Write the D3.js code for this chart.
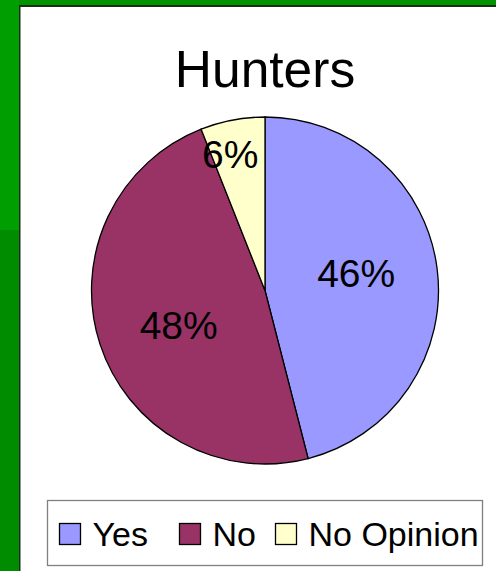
<!DOCTYPE html>
<html><head><meta charset="utf-8">
<script src="https://cdn.jsdelivr.net/npm/d3@7"></script>
<style>body{margin:0;padding:0;overflow:hidden;background:#fff}</style>
</head><body>
<svg id="c" width="496" height="571"></svg>
<script>
const title = "Hunters";
const categories = ["Yes", "No", "No Opinion"];
const values = [46, 48, 6];
const colors = ["#9999FF", "#993366", "#FFFFCC"];

const svg = d3.select("#c");
const font = "'Liberation Sans', Arial, sans-serif";

// slide background frame
svg.append("rect").attr("x",0).attr("y",0).attr("width",496).attr("height",571).attr("fill","#ffffff");
svg.append("rect").attr("x",0).attr("y",0).attr("width",496).attr("height",6).attr("fill","#009400");
svg.append("rect").attr("x",0).attr("y",0).attr("width",19).attr("height",230).attr("fill","#009e00");
svg.append("rect").attr("x",0).attr("y",230).attr("width",19).attr("height",341).attr("fill","#008c00");
svg.append("rect").attr("x",19).attr("y",5).attr("width",477).attr("height",2).attr("fill","#1b2e1b");
svg.append("rect").attr("x",19).attr("y",5).attr("width",1.5).attr("height",566).attr("fill","#1b2e1b");

// title
svg.append("text").attr("x",265).attr("y",87).attr("text-anchor","middle")
  .attr("font-family",font).attr("font-size",51.5).attr("fill","#000").text(title);

// pie
const cx = 265, cy = 290.5, R = 173.5;
const pie = d3.pie().sort(null).value(d => d.v);
const data = categories.map((c,i)=>({c, v: values[i], col: colors[i]}));
const arcs = pie(data);
const arc = d3.arc().innerRadius(0).outerRadius(R);
const g = svg.append("g").attr("transform",`translate(${cx},${cy})`);
g.selectAll("path").data(arcs).enter().append("path")
  .attr("d",arc).attr("fill",d=>d.data.col).attr("stroke","#000").attr("stroke-width",1.3);

g.selectAll("text").data(arcs).enter().append("text")
  .attr("transform",d=>{
    const small = d.data.v < 10;
    const f = small ? 0.81 : 0.535;
    const a = (d.startAngle + d.endAngle)/2 - 0.062;
    return `translate(${Math.sin(a)*R*f},${-Math.cos(a)*R*f})`;
  })
  .attr("dy","0.36em")
  .attr("text-anchor","middle").attr("font-family",font).attr("font-size",39).attr("fill","#000")
  .text(d=>d.data.v+"%");

// legend
svg.append("rect").attr("x",47.5).attr("y",500.5).attr("width",435).attr("height",65)
  .attr("fill","#fff").attr("stroke","#808080").attr("stroke-width",1.3);
const lx = [59.5, 179.5, 275.5];
const lg = svg.selectAll("g.leg").data(data).enter().append("g").attr("class","leg")
  .attr("transform",(d,i)=>`translate(${lx[i]},523.5)`);
lg.append("rect").attr("width",21).attr("height",21).attr("fill",d=>d.col).attr("stroke","#000").attr("stroke-width",1.3);
lg.append("text").attr("x",33).attr("y",22).attr("font-family",font).attr("font-size",34).attr("fill","#000").text(d=>d.c);
</script>
</body></html>
